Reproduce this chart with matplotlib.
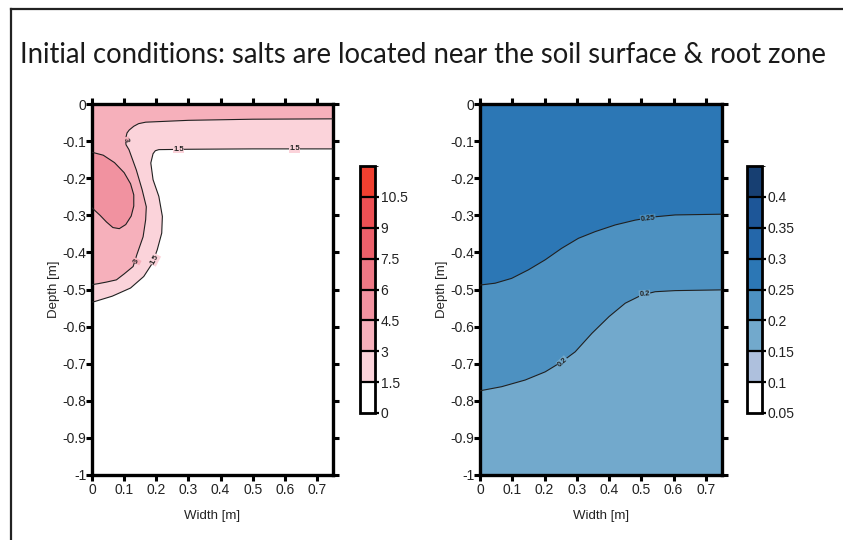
import numpy as np
import matplotlib
matplotlib.use("Agg")
import matplotlib.pyplot as plt
from matplotlib.colors import ListedColormap, BoundaryNorm
from matplotlib.colorbar import ColorbarBase
from matplotlib.lines import Line2D

plt.rcParams['font.family'] = ['Liberation Sans', 'DejaVu Sans']

# ---- salt concentration isolines (width [m], depth [m]) ----
salt_15_w = [0.75, 0.50, 0.30, 0.208, 0.197, 0.190, 0.183, 0.190, 0.208, 0.219, 0.217,
             0.203, 0.188, 0.161, 0.120, 0.063, 0.010, 0.0]
salt_15_d = [-0.121, -0.121, -0.122, -0.123, -0.126, -0.134, -0.159, -0.204, -0.249, -0.303,
             -0.348, -0.393, -0.429, -0.465, -0.496, -0.518, -0.532, -0.534]

salt_3_w = [0.75, 0.50, 0.30, 0.167, 0.145, 0.130, 0.116, 0.109, 0.104, 0.106, 0.115, 0.138,
            0.156, 0.169, 0.167, 0.159, 0.140, 0.128, 0.100, 0.076, 0.045, 0.021, 0.0]
salt_3_d = [-0.040, -0.041, -0.044, -0.049, -0.053, -0.060, -0.070, -0.078, -0.096, -0.110,
            -0.123, -0.178, -0.231, -0.277, -0.312, -0.358, -0.405, -0.438, -0.458, -0.474,
            -0.480, -0.484, -0.487]

salt_45_w = [0, 0.035, 0.070, 0.100, 0.120, 0.130, 0.130, 0.122, 0.105, 0.085, 0.065, 0.045,
             0.025, 0.0]
salt_45_d = [-0.130, -0.138, -0.158, -0.185, -0.215, -0.245, -0.275, -0.302, -0.325, -0.336,
             -0.333, -0.318, -0.300, -0.280]

salt_levels = [0, 1.5, 3, 4.5, 6, 7.5, 9, 10.5, 12]
salt_colors = ['#ffffff', '#fbd3da', '#f6b0bb', '#f192a0', '#ee7885', '#ec606a', '#ec5054',
               '#f04030']

# ---- water content isolines ----
wc_25_w = [0, 0.047, 0.098, 0.150, 0.202, 0.253, 0.305, 0.357, 0.419, 0.481, 0.543, 0.605,
           0.75]
wc_25_d = [-0.488, -0.483, -0.470, -0.447, -0.420, -0.389, -0.362, -0.344, -0.326, -0.313,
           -0.304, -0.299, -0.297]

wc_2_w = [0, 0.067, 0.140, 0.202, 0.253, 0.295, 0.347, 0.400, 0.450, 0.501, 0.543, 0.605,
          0.75]
wc_2_d = [-0.773, -0.762, -0.744, -0.722, -0.695, -0.668, -0.618, -0.573, -0.537, -0.515,
          -0.506, -0.503, -0.501]

wc_levels = [0.05, 0.1, 0.15, 0.2, 0.25, 0.3, 0.35, 0.4, 0.45]
wc_colors = ['#ffffff', '#aec0dd', '#72a9cc', '#4d91c1', '#2c77b5', '#2467aa', '#1d5698',
             '#173f72']

x_ticks = [0, 0.1, 0.2, 0.3, 0.4, 0.5, 0.6, 0.7]
x_ticklabels = ['0', '0.1', '0.2', '0.3', '0.4', '0.5', '0.6', '0.7']
y_ticks = [0, -0.1, -0.2, -0.3, -0.4, -0.5, -0.6, -0.7, -0.8, -0.9, -1]
y_ticklabels = ['0', '-0.1', '-0.2', '-0.3', '-0.4', '-0.5', '-0.6', '-0.7', '-0.8', '-0.9', '-1']


def style_axes(ax):
    ax.set_xlim(0, 0.75)
    ax.set_ylim(-1, 0)
    ax.set_xticks(x_ticks)
    ax.set_xticklabels(x_ticklabels)
    ax.set_yticks(y_ticks)
    ax.set_yticklabels(y_ticklabels)
    ax.tick_params(direction='out', length=4, width=2.2, labelsize=10, pad=0,
                   top=True, right=True, labeltop=False, labelright=False,
                   labelcolor='#222222')
    ax.tick_params(axis='x', pad=2)
    for s in ax.spines.values():
        s.set_linewidth(2.4)
    ax.set_xlabel('Width [m]', fontsize=9.5, labelpad=9, color='#222222')
    ax.set_ylabel('Depth [m]', fontsize=9.5, labelpad=2, color='#222222')


def isoline(ax, w, d):
    ax.plot(w, d, color='#202020', lw=0.8, zorder=3)


def fill_above(ax, w, d, color):
    # close the isoline against the soil surface (depth 0)
    ax.fill(list(w) + [w[-1], w[0]], list(d) + [0, 0], color=color, lw=0, zorder=1)


def clabel(ax, x, y, s, rot, bg):
    ax.text(x, y, s, fontsize=5.5, fontweight='bold', rotation=rot, ha='center', va='center',
            zorder=4, color='#222222',
            bbox=dict(boxstyle='square,pad=0.05', fc=bg, ec='none'))


def add_colorbar(fig, rect, levels, colors):
    cax = fig.add_axes(rect)
    cmap = ListedColormap(colors)
    norm = BoundaryNorm(levels, cmap.N)
    cb = ColorbarBase(cax, cmap=cmap, norm=norm, boundaries=levels, ticks=levels[:-1],
                      drawedges=True)
    cb.outline.set_linewidth(2.0)
    cb.dividers.set_linewidth(1.6)
    cb.dividers.set_color('black')
    cax.tick_params(length=3, width=1.6, labelsize=10, pad=1, labelcolor='#222222')
    cb.set_ticklabels([('%g' % v) for v in levels[:-1]])
    return cb


fig = plt.figure(figsize=(8.43, 5.40), dpi=100)

# salt concentration panel
ax1 = fig.add_axes([92 / 843, 65 / 540, 241 / 843, 371 / 540])
ax1.set_facecolor(salt_colors[0])
fill_above(ax1, salt_15_w, salt_15_d, salt_colors[1])
fill_above(ax1, salt_3_w, salt_3_d, salt_colors[2])
ax1.fill(salt_45_w, salt_45_d, color=salt_colors[3], lw=0, zorder=2)
for w, d in [(salt_15_w, salt_15_d), (salt_3_w, salt_3_d), (salt_45_w, salt_45_d)]:
    isoline(ax1, w, d)
clabel(ax1, 0.104, -0.096, '3', -80, salt_colors[2])
clabel(ax1, 0.27, -0.122, '1.5', 0, salt_colors[1])
clabel(ax1, 0.63, -0.121, '1.5', 0, salt_colors[1])
clabel(ax1, 0.140, -0.424, '3', 62, salt_colors[2])
clabel(ax1, 0.196, -0.420, '1.5', 62, salt_colors[1])
style_axes(ax1)

# water content panel
ax2 = fig.add_axes([480 / 843, 65 / 540, 242 / 843, 371 / 540])
ax2.set_facecolor(wc_colors[2])
fill_above(ax2, wc_2_w, wc_2_d, wc_colors[3])
fill_above(ax2, wc_25_w, wc_25_d, wc_colors[4])
isoline(ax2, wc_2_w, wc_2_d)
isoline(ax2, wc_25_w, wc_25_d)
clabel(ax2, 0.52, -0.308, '0.25', 6, wc_colors[3])
clabel(ax2, 0.51, -0.512, '0.2', 4, wc_colors[2])
clabel(ax2, 0.255, -0.695, '0.2', 42, wc_colors[2])
style_axes(ax2)

add_colorbar(fig, [360 / 843, 127 / 540, 15 / 843, 247 / 540], salt_levels, salt_colors)
add_colorbar(fig, [747 / 843, 127 / 540, 15 / 843, 247 / 540], wc_levels, wc_colors)

fig.text(20 / 843, 1 - 55 / 540, 'Initial conditions: salts are located near the soil surface & root zone',
         fontsize=19.8, family=['Lato', 'DejaVu Sans'], color='#1a1a1a', ha='left', va='center')

# outer frame (left and top edges)
fig.add_artist(Line2D([11 / 843, 11 / 843], [0, 1 - 9 / 540], transform=fig.transFigure,
                      color='#222222', lw=1.6))
fig.add_artist(Line2D([11 / 843, 1], [1 - 9 / 540, 1 - 9 / 540], transform=fig.transFigure,
                      color='#222222', lw=1.6))

fig.savefig('out.png', dpi=100)
